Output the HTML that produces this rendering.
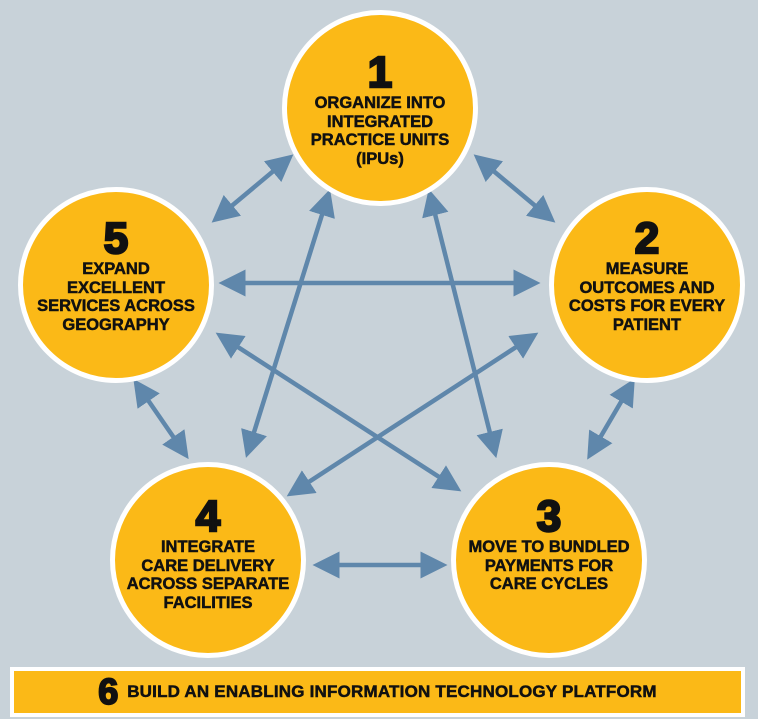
<!DOCTYPE html>
<html><head><style>
html,body{margin:0;padding:0;background:#c8d2d9;}
body{width:758px;height:719px;position:relative;overflow:hidden;font-family:"Liberation Sans",sans-serif;}
.c{position:absolute;width:186px;height:186px;border-radius:50%;background:#fbb917;border:5px solid #fff;text-align:center;color:#111;font-weight:bold;}
.c .n{font-size:44px;font-weight:900;line-height:42px;-webkit-text-stroke:2.5px #111;}
.c .t{font-size:16.5px;line-height:18.5px;letter-spacing:0px;-webkit-text-stroke:0.5px #111;white-space:nowrap;margin:0 -10px;}
.bar{position:absolute;left:10px;top:667px;width:727px;height:42px;border:4px solid #fff;background:#fbb917;text-align:center;font-weight:bold;color:#111;}
</style></head><body>
<svg width="758" height="719" style="position:absolute;left:0;top:0">
<defs><marker id="a" markerWidth="6" markerHeight="6" refX="3" refY="3" orient="auto-start-reverse" markerUnits="strokeWidth"><path d="M0,0 L6,3 L0,6 z" fill="#5f87ab"/></marker></defs>
<g stroke="#5f87ab" stroke-width="4.5" marker-start="url(#a)" marker-end="url(#a)">
<line x1="222" y1="214" x2="283" y2="163"/>
<line x1="484" y1="163" x2="545" y2="214"/>
<line x1="232" y1="283" x2="527" y2="283"/>
<line x1="141" y1="390" x2="181" y2="448"/>
<line x1="628" y1="390" x2="594" y2="448"/>
<line x1="326" y1="565" x2="434" y2="565"/>
<line x1="326" y1="202" x2="250" y2="445"/>
<line x1="432" y1="202" x2="493" y2="445"/>
<line x1="227" y1="340" x2="450" y2="484"/>
<line x1="527" y1="340" x2="298" y2="489"/>
</g></svg>
<div class="c" style="left:282px;top:10px"><div class="n" style="margin-top:37px">1</div><div class="t">ORGANIZE INTO<br>INTEGRATED<br>PRACTICE UNITS<br>(IPUs)</div></div>
<div class="c" style="left:18px;top:187px"><div class="n" style="margin-top:26px">5</div><div class="t">EXPAND<br>EXCELLENT<br>SERVICES ACROSS<br>GEOGRAPHY</div></div>
<div class="c" style="left:549px;top:187px"><div class="n" style="margin-top:26px">2</div><div class="t">MEASURE<br>OUTCOMES AND<br>COSTS FOR EVERY<br>PATIENT</div></div>
<div class="c" style="left:110px;top:462px"><div class="n" style="margin-top:29px">4</div><div class="t">INTEGRATE<br>CARE DELIVERY<br>ACROSS SEPARATE<br>FACILITIES</div></div>
<div class="c" style="left:451px;top:462px"><div class="n" style="margin-top:29px">3</div><div class="t">MOVE TO BUNDLED<br>PAYMENTS FOR<br>CARE CYCLES</div></div>
<div class="bar"><span style="font-size:36px;font-weight:900;line-height:42px;vertical-align:middle;-webkit-text-stroke:2px #111;">6</span>&nbsp;&nbsp;<span style="font-size:17px;vertical-align:middle;letter-spacing:0.2px;-webkit-text-stroke:0.5px #111;">BUILD AN ENABLING INFORMATION TECHNOLOGY PLATFORM</span></div>
</body></html>
